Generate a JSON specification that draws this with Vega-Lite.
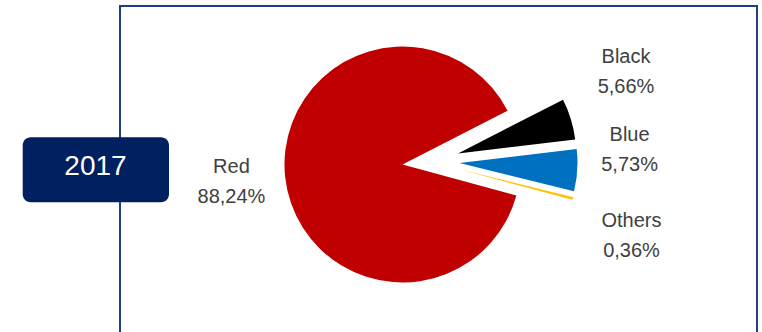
{
  "$schema": "https://vega.github.io/schema/vega-lite/v6.json",
  "width": 637,
  "height": 340,
  "autosize": {"type": "none"},
  "padding": {"left": 120, "top": 6, "right": 5, "bottom": 0},
  "background": "#ffffff",
  "view": {"stroke": "#1F3C88", "strokeWidth": 2},
  "config": {
    "view": {"stroke": "#1F3C88", "strokeWidth": 2},
    "text": {"font": "Liberation Sans"}
  },
  "layer": [
    {
      "data": {
        "values": [
          {"category": "Red", "share": 88.24},
          {"category": "Black", "share": 5.66},
          {"category": "Blue", "share": 5.73},
          {"category": "Others", "share": 0.36}
        ]
      },
      "transform": [
        {"stack": "share", "groupby": [], "as": ["v0", "v1"]},
        {"calculate": "(datum.v0 + datum.v1) / 2", "as": "mid"},
        {"calculate": "[datum.category, replace(format(datum.share, '.2f'), '.', ',') + '%']", "as": "lines"}
      ],
      "encoding": {
        "theta": {"field": "v0", "type": "quantitative", "scale": {"domain": [0, 100], "range": [1.83609, 8.11928]}},
        "theta2": {"field": "v1"},
        "color": {
          "field": "category",
          "type": "nominal",
          "scale": {"domain": ["Red", "Black", "Blue", "Others"], "range": ["#C00000", "#000000", "#0070C0", "#FFC000"]},
          "legend": null
        }
      },
      "layer": [
        {
          "transform": [{"filter": "datum.category === 'Red'"}],
          "mark": {"type": "arc", "outerRadius": 118, "x": 282.5, "y": 158.5}
        },
        {
          "transform": [{"filter": "datum.category === 'Black'"}],
          "mark": {"type": "arc", "outerRadius": 118, "x": 338, "y": 147.5}
        },
        {
          "transform": [{"filter": "datum.category === 'Blue'"}],
          "mark": {"type": "arc", "outerRadius": 118, "x": 339.5, "y": 157}
        },
        {
          "transform": [{"filter": "datum.category === 'Others'"}],
          "mark": {"type": "arc", "outerRadius": 118, "x": 338.5, "y": 163}
        },
        {
          "transform": [{"filter": "datum.category === 'Red'"}],
          "mark": {"type": "text", "x": 282.5, "y": 158.5, "radius": 171, "dx": -1, "dy": -15, "align": "center", "baseline": "middle", "fontSize": 20, "lineHeight": 30, "fill": "#404040"},
          "encoding": {"theta": {"field": "mid", "type": "quantitative"}, "theta2": null, "color": null, "text": {"field": "lines"}}
        },
        {
          "transform": [{"filter": "datum.category === 'Black'"}],
          "mark": {"type": "text", "x": 282.5, "y": 158.5, "radius": 228, "dx": 5.4, "dy": -40.8, "align": "center", "baseline": "middle", "fontSize": 20, "lineHeight": 30, "fill": "#404040"},
          "encoding": {"theta": {"field": "mid", "type": "quantitative"}, "theta2": null, "color": null, "text": {"field": "lines"}}
        },
        {
          "transform": [{"filter": "datum.category === 'Blue'"}],
          "mark": {"type": "text", "x": 282.5, "y": 158.5, "radius": 228, "dx": -0.5, "dy": -43.9, "align": "center", "baseline": "middle", "fontSize": 20, "lineHeight": 30, "fill": "#404040"},
          "encoding": {"theta": {"field": "mid", "type": "quantitative"}, "theta2": null, "color": null, "text": {"field": "lines"}}
        },
        {
          "transform": [{"filter": "datum.category === 'Others'"}],
          "mark": {"type": "text", "x": 282.5, "y": 158.5, "radius": 228, "dx": 8.3, "dy": -0.4, "align": "center", "baseline": "middle", "fontSize": 20, "lineHeight": 30, "fill": "#404040"},
          "encoding": {"theta": {"field": "mid", "type": "quantitative"}, "theta2": null, "color": null, "text": {"field": "lines"}}
        }
      ]
    },
    {
      "data": {"values": [{"year": "2017"}]},
      "layer": [
        {
          "mark": {"type": "rect", "x": -97.3, "x2": 49, "y": 131.3, "y2": 196.3, "cornerRadius": 8, "fill": "#002060"},
          "encoding": {}
        },
        {
          "mark": {"type": "text", "x": -24.5, "y": 169, "align": "center", "baseline": "alphabetic", "fontSize": 28, "fill": "#ffffff"},
          "encoding": {"text": {"field": "year"}}
        }
      ]
    }
  ]
}
